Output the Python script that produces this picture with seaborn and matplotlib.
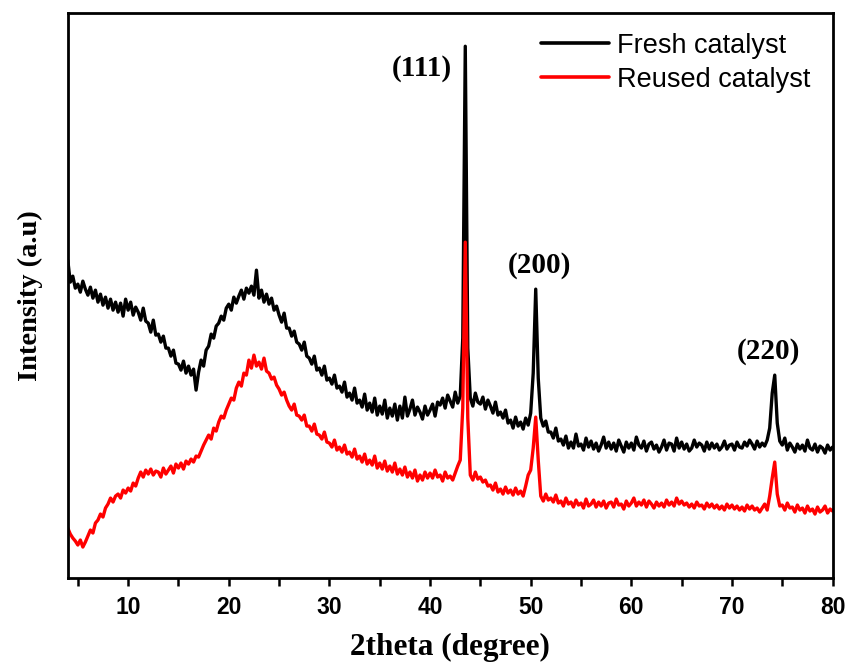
import numpy as np
import pandas as pd
import seaborn as sns
import matplotlib.pyplot as plt
from matplotlib.ticker import MultipleLocator

# XRD scans, every 0.25 degree from 4 to 80 (arbitrary units)
two_theta = np.arange(4, 80.01, 0.25)

fresh = [
    318, 296, 302, 290,  294, 286, 297, 289,  283, 291, 280, 288,  276, 284, 273, 281,   # 4-7
    270, 279, 268, 276,  266, 275, 262, 279,  268, 276, 263, 271,  266, 258, 270, 257,   # 8-11
    255, 246, 258, 243,  244, 236, 242, 230,  230, 222, 228, 215,  214, 208, 217, 205,   # 12-15
    212, 203, 209, 188,  206, 218, 212, 228,  232, 244, 240, 252,  255, 262, 258, 270,   # 16-19
    274, 268, 281, 275,  282, 288, 279, 290,  285, 292, 283, 308,  280, 288, 276, 284,   # 20-23
    274, 280, 268, 272,  263, 256, 265, 250,  250, 242, 247, 236,  234, 228, 236, 222,   # 24-27
    220, 214, 222, 208,  210, 203, 212, 198,  200, 194, 203, 190,  192, 186, 196, 181,   # 28-31
    185, 178, 190, 175,  178, 171, 184, 168,  175, 166, 180, 163,  172, 164, 178, 160,   # 32-35
    170, 162, 174, 158,  172, 160, 181, 162,  169, 178, 163, 171,  166, 159, 172, 163,   # 36-39
    168, 174, 162, 176,  173, 180, 170, 183,  177, 171, 186, 175,  182, 240, 532, 230,   # 40-43
    180, 172, 185, 176,  174, 181, 169, 178,  172, 165, 176, 163,  166, 160, 168, 155,   # 44-47
    158, 150, 161, 152,  156, 149, 160, 153,  165, 205, 289, 200,  160, 152, 157, 146,   # 48-51
    146, 140, 150, 137,  139, 133, 142, 130,  136, 130, 144, 132,  134, 128, 140, 131,   # 52-55
    137, 129, 135, 127,  133, 141, 130, 136,  129, 135, 127, 138,  132, 126, 136, 130,   # 56-59
    135, 128, 141, 133,  130, 137, 127, 134,  136, 129, 133, 126,  131, 138, 128, 135,   # 60-63
    134, 127, 140, 130,  136, 129, 134, 127,  130, 138, 131, 135,  133, 127, 136, 129,   # 64-67
    135, 130, 134, 128,  131, 137, 129, 133,  134, 128, 136, 131,  130, 136, 132, 138,   # 68-71
    134, 129, 137, 131,  135, 132, 138, 150,  185, 203, 155, 137,  133, 140, 128, 135,   # 72-75
    131, 126, 134, 129,  133, 127, 138, 130,  128, 134, 126, 132,  130, 125, 133, 128,   # 76-79
    131,
]

reused = [
    50, 44, 40, 37,  33, 38, 31, 36,  42, 48, 45, 55,  58, 64, 61, 70,   # 4-7
    74, 80, 76, 82,  84, 80, 88, 85,  90, 87, 95, 92,  100, 106, 101, 108,   # 8-11
    104, 109, 103, 107,  106, 101, 110, 104,  108, 112, 105, 114,  110, 115, 109, 117,   # 12-15
    114, 119, 116, 122,  121, 127, 133, 138,  143, 139, 150, 147,  156, 162, 160, 168,   # 16-19
    174, 180, 178, 190,  196, 192, 205, 203,  218, 210, 223, 212,  216, 209, 220, 207,   # 20-23
    205, 199, 201, 193,  189, 183, 186, 178,  172, 168, 174, 163,  162, 158, 163, 152,   # 24-27
    152, 147, 154, 144,  143, 139, 146, 136,  135, 131, 138, 128,  131, 126, 133, 124,   # 28-31
    126, 121, 129, 119,  122, 116, 124, 114,  118, 113, 122, 110,  115, 109, 117, 107,   # 32-35
    112, 106, 115, 104,  109, 103, 111, 101,  106, 100, 108, 97,  103, 98, 106, 100,   # 36-39
    105, 100, 108, 101,  103, 97, 106, 100,  102, 98, 105, 112,  118, 170, 336, 160,   # 40-43
    103, 98, 106, 99,  101, 96, 98, 92,  93, 88, 95, 86,  89, 84, 91, 85,   # 44-47
    88, 83, 90, 84,  87, 82, 92, 103,  108, 130, 161, 118,  82, 77, 84, 78,   # 48-51
    80, 76, 83, 75,  77, 72, 80, 74,  76, 71, 78, 73,  75, 70, 79, 72,   # 52-55
    74, 78, 71, 76,  72, 77, 70, 75,  76, 71, 79, 73,  74, 69, 77, 72,   # 56-59
    75, 80, 72, 76,  73, 78, 71, 77,  74, 70, 76, 72,  75, 71, 78, 73,   # 60-63
    76, 72, 80, 74,  77, 73, 75, 71,  74, 70, 76, 72,  73, 69, 75, 71,   # 64-67
    74, 70, 73, 69,  72, 68, 74, 70,  73, 69, 72, 68,  71, 67, 73, 69,   # 68-71
    72, 68, 70, 66,  70, 74, 68, 82,  100, 116, 84, 72,  73, 68, 75, 70,   # 72-75
    71, 66, 73, 68,  70, 65, 72, 67,  69, 64, 71, 66,  68, 72, 65, 69,   # 76-79
    67,
]

peak_labels = ['(111)', '(200)', '(220)']
peak_label_x = [39.2, 50.9, 73.6]
peak_label_y = [510, 313, 227]

df = pd.concat([
    pd.DataFrame({'2theta': two_theta, 'Intensity': fresh, 'Sample': 'Fresh catalyst'}),
    pd.DataFrame({'2theta': two_theta, 'Intensity': reused, 'Sample': 'Reused catalyst'}),
])

sns.set_style('white')
plt.rcParams['font.family'] = ['Liberation Sans', 'DejaVu Sans']
plt.rcParams['text.color'] = 'black'
plt.rcParams['axes.labelcolor'] = 'black'
plt.rcParams['xtick.color'] = 'black'

fig = plt.figure(figsize=(8.47, 6.64), dpi=100)
ax = fig.add_axes([0.080, 0.1295, 0.903, 0.8505])

sns.lineplot(data=df, x='2theta', y='Intensity', hue='Sample',
             palette=['black', 'red'], linewidth=2.4, ax=ax, sort=False)

for lab, lx, ly in zip(peak_labels, peak_label_x, peak_label_y):
    ax.text(lx, ly, lab, ha='center', va='center', fontsize=21, fontweight='bold',
            family='Liberation Serif', color='black')

ax.set_xlim(4, 80)
ax.set_ylim(0, 565)
ax.xaxis.set_major_locator(MultipleLocator(10))
ax.xaxis.set_minor_locator(MultipleLocator(5))
ax.set_yticks([])
ax.tick_params(axis='x', which='both', direction='out', length=6, width=1.8,
               bottom=True, labelsize=16.5, pad=7, colors='black')
for t in ax.get_xticklabels():
    t.set_fontweight('bold')
for s in ax.spines.values():
    s.set_linewidth(2.0)
    s.set_color('black')

ax.set_xlabel('2theta (degree)', fontsize=22.5, fontweight='bold',
              family='Liberation Serif', labelpad=10, color='black')
ax.set_ylabel('Intensity (a.u)', fontsize=20.5, fontweight='bold',
              family='Liberation Serif', labelpad=18, color='black')

ax.legend(loc='upper right', frameon=False, fontsize=19.5, handlelength=2.5,
          handletextpad=0.3, labelspacing=0.3, borderaxespad=0.0,
          bbox_to_anchor=(0.985, 0.985))
for line in ax.get_legend().get_lines():
    line.set_linewidth(2.6)

fig.savefig('out.png', dpi=100)
